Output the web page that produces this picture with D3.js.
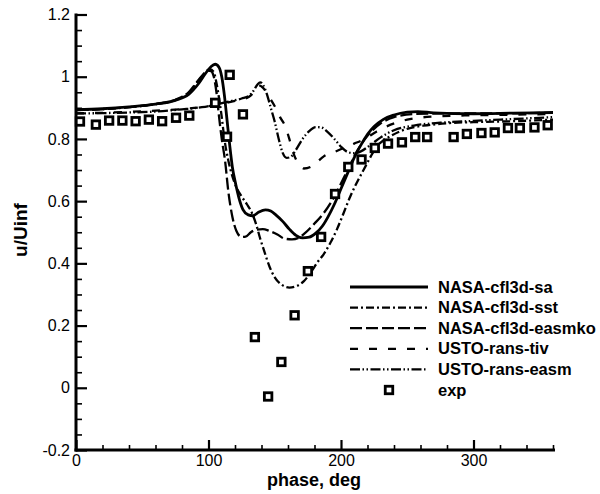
<!DOCTYPE html>
<html><head><meta charset="utf-8">
<script src="https://cdn.jsdelivr.net/npm/d3@7"></script>
<style>
html,body{margin:0;padding:0;background:#fff;}
svg{display:block;font-family:"Liberation Sans",Arial,Helvetica,sans-serif;}
</style></head>
<body><svg id="c" width="600" height="494"></svg>
<script>
// ---- data (phase in deg, u/Uinf) ----
const seriesNames = ["NASA-cfl3d-sa","NASA-cfl3d-sst","NASA-cfl3d-easmko","USTO-rans-tiv","USTO-rans-easm","exp"];
const phaseTicks = [0,100,200,300];
const phaseTickLabels = ["0","100","200","300"];
const uTicks = [-0.2,0,0.2,0.4,0.6,0.8,1.0,1.2];
const uTickLabels = ["-0.2","0","0.2","0.4","0.6","0.8","1","1.2"];

const sa = [[0,0.894],[20,0.897],[40,0.903],[60,0.912],[75,0.924],[85,0.943],[92,0.975],[98,1.012],[102,1.033],[105,1.04],[108,1.03],[110,1.0],[112,0.94],[114,0.86],[116,0.78],[118,0.71],[120.5,0.655],[123,0.61],[126,0.573],[130,0.556],[133.5,0.553],[138,0.565],[143,0.572],[147,0.568],[151,0.555],[156,0.535],[161,0.51],[166,0.49],[171,0.482],[176,0.484],[181,0.497],[186,0.52],[190,0.548],[195,0.59],[200,0.64],[205,0.69],[210,0.74],[215,0.78],[220,0.815],[225,0.84],[232,0.863],[240,0.877],[250,0.886],[258,0.888],[270,0.884],[300,0.881],[330,0.883],[360,0.885]];
const sst = [[0,0.893],[20,0.896],[40,0.902],[60,0.912],[75,0.925],[85,0.948],[92,0.985],[97,1.012],[101,1.024],[104,1.015],[106,0.98],[108,0.93],[110,0.87],[112,0.8],[115,0.73],[118,0.68],[121,0.645],[125,0.615],[129,0.59],[133,0.56],[136,0.525],[139,0.48],[142,0.44],[146,0.39],[150,0.355],[155,0.332],[161,0.322],[167,0.328],[172,0.343],[177,0.37],[182,0.402],[187,0.43],[192,0.466],[197,0.51],[202,0.562],[207,0.615],[212,0.66],[217,0.70],[222,0.74],[227,0.776],[232,0.795],[237,0.808],[245,0.825],[252,0.835],[265,0.844],[282,0.851],[300,0.854],[330,0.857],[360,0.862]];
const easmko = [[0,0.893],[20,0.896],[40,0.902],[60,0.912],[75,0.926],[85,0.95],[92,0.987],[97,1.012],[100,1.02],[102,1.018],[104,1.0],[106,0.95],[108,0.87],[110,0.8],[112.5,0.73],[115,0.63],[118,0.55],[121,0.505],[125,0.485],[128,0.486],[132,0.5],[136,0.508],[141,0.51],[146,0.504],[152,0.493],[157,0.48],[163,0.477],[168,0.482],[173,0.498],[180,0.528],[187,0.562],[193,0.6],[199,0.648],[205,0.7],[212,0.76],[220,0.81],[230,0.85],[240,0.87],[255,0.88],[280,0.882],[320,0.882],[360,0.884]];
const tiv = [[0,0.882],[20,0.884],[40,0.887],[60,0.891],[80,0.896],[100,0.905],[110,0.913],[120,0.922],[128,0.93],[132,0.94],[135,0.955],[138,0.972],[141,0.965],[145,0.94],[150,0.905],[154,0.87],[158,0.84],[161,0.80],[164,0.755],[168,0.72],[172,0.705],[177,0.71],[182,0.726],[187,0.744],[195,0.758],[202,0.771],[210,0.785],[217,0.798],[227,0.824],[237,0.845],[250,0.862],[270,0.872],[300,0.876],[330,0.878],[360,0.88]];
const easm = [[0,0.882],[20,0.883],[40,0.885],[60,0.888],[80,0.895],[95,0.902],[105,0.91],[115,0.92],[125,0.93],[131,0.94],[134,0.955],[137,0.975],[139,0.982],[141,0.975],[144,0.945],[147,0.9],[150,0.855],[153,0.8],[156,0.755],[159,0.739],[162,0.742],[166,0.765],[171,0.8],[176,0.825],[181,0.838],[185,0.837],[190,0.822],[195,0.8],[200,0.775],[205,0.758],[210,0.754],[215,0.76],[222,0.78],[230,0.805],[240,0.828],[255,0.843],[275,0.852],[300,0.858],[330,0.864],[360,0.87]];
const exp = [[3,0.856],[15,0.846],[25,0.859],[35,0.859],[45,0.857],[55,0.862],[65,0.857],[75.5,0.868],[85.5,0.875],[105,0.916],[114,0.807],[116,1.006],[126,0.879],[135,0.163],[145,-0.028],[155,0.083],[165,0.233],[175,0.375],[185,0.485],[195.5,0.623],[205.5,0.710],[215.5,0.734],[225.5,0.771],[235.5,0.785],[246,0.789],[256,0.806],[265,0.806],[285,0.806],[295,0.816],[306,0.819],[316,0.821],[326,0.835],[335,0.835],[346,0.837],[356,0.844]];

const lineSeries = [
  {name: seriesNames[0], data: sa, dash: null, w: 2.8},
  {name: seriesNames[1], data: sst, dash: "8,3,2,3", w: 2.3},
  {name: seriesNames[2], data: easmko, dash: "12,4", w: 2.3},
  {name: seriesNames[3], data: tiv, dash: "8,11", w: 2.3},
  {name: seriesNames[4], data: easm, dash: "10,2.5,1.5,2.5,1.5,2.5", w: 2.3}
];

// ---- layout ----
const svg = d3.select("#c");
const x = d3.scaleLinear().domain([0,360]).range([76,553]);
const y = d3.scaleLinear().domain([-0.2,1.2]).range([450,14.5]);

// minor ticks
const xMinor = d3.range(0,361,20).filter(d => d % 100 !== 0);
const yMinor = d3.range(-0.2,1.2001,0.05).map(d=>+d.toFixed(2)).filter(d => Math.abs(Math.round(d*5)-d*5) > 1e-6);

const gxm = svg.append("g").attr("transform","translate(0,450)")
  .call(d3.axisBottom(x).tickValues(xMinor).tickSize(-5).tickFormat(""));
const gym = svg.append("g").attr("transform","translate(76,0)")
  .call(d3.axisLeft(y).tickValues(yMinor).tickSize(-6).tickFormat(""));
[gxm,gym].forEach(g=>{g.select(".domain").remove(); g.selectAll("line").attr("stroke","#000").attr("stroke-width",1.6);});

const gx = svg.append("g").attr("transform","translate(0,450)")
  .call(d3.axisBottom(x).tickValues(phaseTicks).tickSize(-10).tickSizeOuter(0).tickPadding(5)
        .tickFormat((d,i)=>phaseTickLabels[i]));
const gy = svg.append("g").attr("transform","translate(76,0)")
  .call(d3.axisLeft(y).tickValues(uTicks).tickSize(-11).tickSizeOuter(0).tickPadding(6)
        .tickFormat((d,i)=>uTickLabels[i]));
[gx,gy].forEach(g=>{
  g.select(".domain").remove();
  g.selectAll("line").attr("stroke","#000").attr("stroke-width",2.2);
  g.selectAll("text").attr("fill","#000").attr("font-size",16).attr("font-family","'Liberation Sans',Arial,sans-serif");
});
// axis lines
svg.append("line").attr("x1",76).attr("x2",76).attr("y1",y(1.2)-1).attr("y2",451.5).attr("stroke","#000").attr("stroke-width",3);
svg.append("line").attr("x1",74.5).attr("x2",555).attr("y1",450).attr("y2",450).attr("stroke","#000").attr("stroke-width",3);

// lines
const line = d3.line().x(d=>x(d[0])).y(d=>y(d[1])).curve(d3.curveMonotoneX);
lineSeries.forEach(s=>{
  svg.append("path").datum(s.data).attr("d",line).attr("fill","none")
    .attr("stroke","#000").attr("stroke-width",s.w)
    .attr("stroke-dasharray",s.dash).attr("stroke-linejoin","round");
});
// exp markers
const msz = 7.5;
svg.append("g").selectAll("rect").data(exp).join("rect")
  .attr("x",d=>x(d[0])-msz/2).attr("y",d=>y(d[1])-msz/2)
  .attr("width",msz).attr("height",msz)
  .attr("fill","#fff").attr("stroke","#000").attr("stroke-width",2.8);

// axis titles
svg.append("text").attr("x",314).attr("y",486).attr("text-anchor","middle")
  .attr("font-size",18).attr("font-weight","bold").text("phase, deg");
svg.append("text").attr("transform","translate(27,230) rotate(-90)").attr("text-anchor","middle")
  .attr("font-size",19).attr("font-weight","bold").text("u/Uinf");

// legend
const legY = d3.scalePoint().domain(seriesNames).range([287,390]);
const leg = svg.append("g");
lineSeries.forEach(s=>{
  leg.append("line").attr("x1",350).attr("x2",428).attr("y1",legY(s.name)).attr("y2",legY(s.name))
    .attr("stroke","#000").attr("stroke-width",s.w).attr("stroke-dasharray",s.dash);
});
leg.append("rect").attr("x",389-msz/2).attr("y",legY("exp")-msz/2).attr("width",msz).attr("height",msz)
  .attr("fill","#fff").attr("stroke","#000").attr("stroke-width",2.8);
seriesNames.forEach(n=>{
  leg.append("text").attr("x",438).attr("y",legY(n)+5.5).attr("font-size",16.5).attr("font-weight","bold").text(n);
});
</script></body></html>
